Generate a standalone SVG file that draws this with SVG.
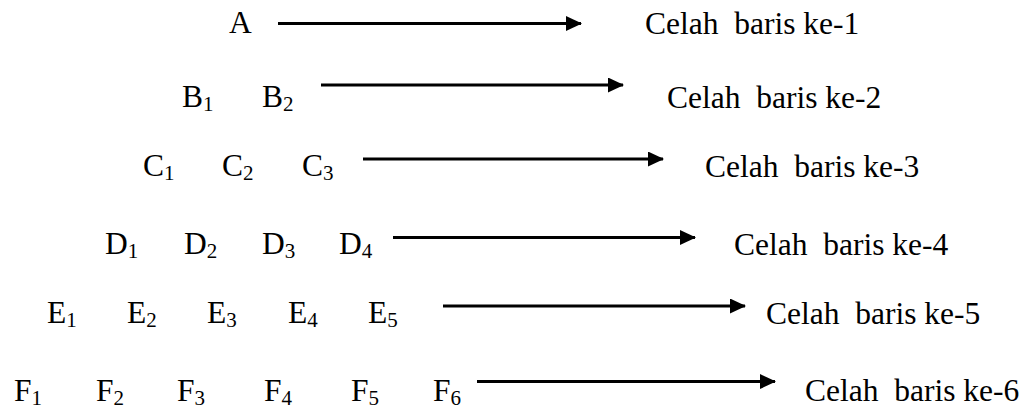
<svg xmlns="http://www.w3.org/2000/svg" width="1029" height="410" viewBox="0 0 1029 410">
<style>
text{font-family:"Liberation Serif","Times New Roman",serif;font-size:31.5px;fill:#000;white-space:pre}
.s{font-size:21px}
.c line{stroke:#000;stroke-width:2.8;marker-end:url(#ah)}
</style>
<defs>
<marker id="ah" markerUnits="userSpaceOnUse" markerWidth="16" markerHeight="15" refX="15" refY="7.5" orient="auto" viewBox="0 0 16 15">
<path d="M0,0 L16,7.5 L0,15 Z" fill="#000"/>
</marker>
</defs>
<rect width="1029" height="410" fill="#fff"/>
<g id="row1">
<text x="229" y="33">A</text>
<text x="645" y="34" xml:space="preserve">Celah  baris ke-1</text>
</g>
<g id="row2">
<text x="182" y="107">B<tspan class="s" dy="4">1</tspan></text>
<text x="262" y="107">B<tspan class="s" dy="4">2</tspan></text>
<text x="667" y="108" xml:space="preserve">Celah  baris ke-2</text>
</g>
<g id="row3">
<text x="143" y="176">C<tspan class="s" dy="4">1</tspan></text>
<text x="222" y="176">C<tspan class="s" dy="4">2</tspan></text>
<text x="302" y="176">C<tspan class="s" dy="4">3</tspan></text>
<text x="705" y="177" xml:space="preserve">Celah  baris ke-3</text>
</g>
<g id="row4">
<text x="105" y="254">D<tspan class="s" dy="4">1</tspan></text>
<text x="184" y="254">D<tspan class="s" dy="4">2</tspan></text>
<text x="262" y="254">D<tspan class="s" dy="4">3</tspan></text>
<text x="339" y="254">D<tspan class="s" dy="4">4</tspan></text>
<text x="734" y="255" xml:space="preserve">Celah  baris ke-4</text>
</g>
<g id="row5">
<text x="47" y="323">E<tspan class="s" dy="4">1</tspan></text>
<text x="127" y="323">E<tspan class="s" dy="4">2</tspan></text>
<text x="207" y="323">E<tspan class="s" dy="4">3</tspan></text>
<text x="288" y="323">E<tspan class="s" dy="4">4</tspan></text>
<text x="368" y="323">E<tspan class="s" dy="4">5</tspan></text>
<text x="766" y="324" xml:space="preserve">Celah  baris ke-5</text>
</g>
<g id="row6">
<text x="14" y="401">F<tspan class="s" dy="4">1</tspan></text>
<text x="96" y="401">F<tspan class="s" dy="4">2</tspan></text>
<text x="177" y="401">F<tspan class="s" dy="4">3</tspan></text>
<text x="264" y="401">F<tspan class="s" dy="4">4</tspan></text>
<text x="351" y="401">F<tspan class="s" dy="4">5</tspan></text>
<text x="433" y="401">F<tspan class="s" dy="4">6</tspan></text>
<text x="805" y="401" xml:space="preserve">Celah  baris ke-6</text>
</g>
<g id="connectors" class="c">
<line x1="278" y1="23.5" x2="581" y2="23.5"/>
<line x1="321" y1="85" x2="623" y2="85"/>
<line x1="363" y1="159" x2="663" y2="159"/>
<line x1="393" y1="237.5" x2="695" y2="237.5"/>
<line x1="443" y1="306" x2="745" y2="306"/>
<line x1="477" y1="381.5" x2="775" y2="381.5"/>
</g>
</svg>
